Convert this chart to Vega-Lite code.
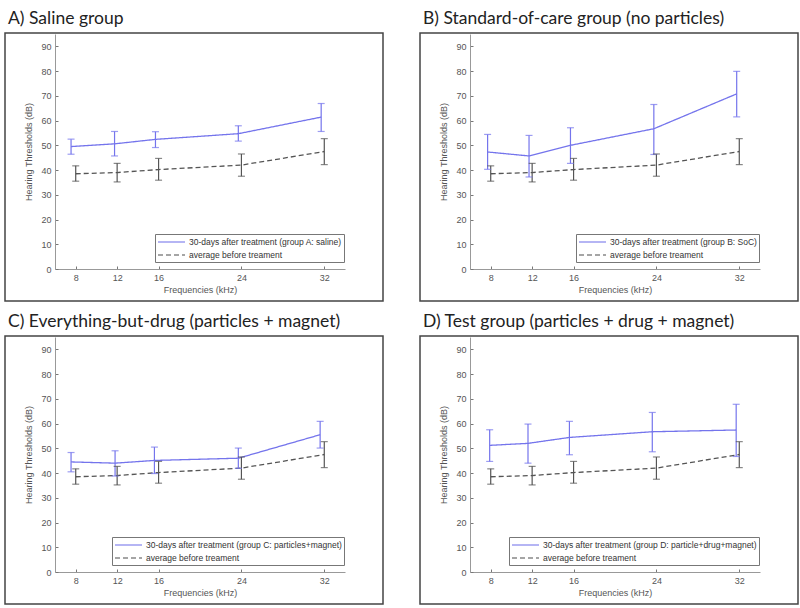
{
  "$schema": "https://vega.github.io/schema/vega-lite/v6.json",
  "background": "white",
  "padding": {"left": 4, "top": 8, "right": 0, "bottom": 0},
  "datasets": {
    "vals": [
      {"panel": "A", "series": "30-days after treatment (group A: saline)", "x": 7.55, "mean": 49.5, "lo": 46.4, "hi": 52.5},
      {"panel": "A", "series": "30-days after treatment (group A: saline)", "x": 11.75, "mean": 50.6, "lo": 45.7, "hi": 55.6},
      {"panel": "A", "series": "30-days after treatment (group A: saline)", "x": 15.7, "mean": 52.4, "lo": 49.1, "hi": 55.5},
      {"panel": "A", "series": "30-days after treatment (group A: saline)", "x": 23.7, "mean": 54.7, "lo": 51.7, "hi": 57.9},
      {"panel": "A", "series": "30-days after treatment (group A: saline)", "x": 31.7, "mean": 61.4, "lo": 55.6, "hi": 66.9},
      {"panel": "A", "series": "average before treament", "x": 8, "mean": 38.5, "lo": 35.5, "hi": 41.7},
      {"panel": "A", "series": "average before treament", "x": 12, "mean": 39.0, "lo": 35.2, "hi": 42.7},
      {"panel": "A", "series": "average before treament", "x": 16, "mean": 40.2, "lo": 35.9, "hi": 44.7},
      {"panel": "A", "series": "average before treament", "x": 24, "mean": 42.0, "lo": 37.5, "hi": 46.5},
      {"panel": "A", "series": "average before treament", "x": 32, "mean": 47.5, "lo": 42.2, "hi": 52.7},
      {"panel": "B", "series": "30-days after treatment (group B: SoC)", "x": 7.7, "mean": 47.3, "lo": 40.3, "hi": 54.4},
      {"panel": "B", "series": "30-days after treatment (group B: SoC)", "x": 11.7, "mean": 45.7, "lo": 37.2, "hi": 54.0},
      {"panel": "B", "series": "30-days after treatment (group B: SoC)", "x": 15.7, "mean": 50.0, "lo": 42.7, "hi": 57.1},
      {"panel": "B", "series": "30-days after treatment (group B: SoC)", "x": 23.75, "mean": 56.7, "lo": 46.3, "hi": 66.5},
      {"panel": "B", "series": "30-days after treatment (group B: SoC)", "x": 31.75, "mean": 70.8, "lo": 61.5, "hi": 79.9},
      {"panel": "B", "series": "average before treament", "x": 8, "mean": 38.5, "lo": 35.5, "hi": 41.7},
      {"panel": "B", "series": "average before treament", "x": 12, "mean": 39.0, "lo": 35.2, "hi": 42.7},
      {"panel": "B", "series": "average before treament", "x": 16, "mean": 40.2, "lo": 35.9, "hi": 44.7},
      {"panel": "B", "series": "average before treament", "x": 24, "mean": 42.0, "lo": 37.5, "hi": 46.5},
      {"panel": "B", "series": "average before treament", "x": 32, "mean": 47.5, "lo": 42.2, "hi": 52.7},
      {"panel": "C", "series": "30-days after treatment (group C: particles+magnet)", "x": 7.55, "mean": 44.5, "lo": 40.5, "hi": 48.3},
      {"panel": "C", "series": "30-days after treatment (group C: particles+magnet)", "x": 11.8, "mean": 44.0, "lo": 38.8, "hi": 49.0},
      {"panel": "C", "series": "30-days after treatment (group C: particles+magnet)", "x": 15.6, "mean": 45.1, "lo": 39.8, "hi": 50.5},
      {"panel": "C", "series": "30-days after treatment (group C: particles+magnet)", "x": 23.7, "mean": 46.0, "lo": 41.9, "hi": 50.1},
      {"panel": "C", "series": "30-days after treatment (group C: particles+magnet)", "x": 31.6, "mean": 55.5, "lo": 50.1, "hi": 60.9},
      {"panel": "C", "series": "average before treament", "x": 8, "mean": 38.5, "lo": 35.5, "hi": 41.7},
      {"panel": "C", "series": "average before treament", "x": 12, "mean": 39.0, "lo": 35.2, "hi": 42.7},
      {"panel": "C", "series": "average before treament", "x": 16, "mean": 40.2, "lo": 35.9, "hi": 44.7},
      {"panel": "C", "series": "average before treament", "x": 24, "mean": 42.0, "lo": 37.5, "hi": 46.5},
      {"panel": "C", "series": "average before treament", "x": 32, "mean": 47.5, "lo": 42.2, "hi": 52.7},
      {"panel": "D", "series": "30-days after treatment (group D: particle+drug+magnet)", "x": 7.9, "mean": 51.2, "lo": 44.7, "hi": 57.5},
      {"panel": "D", "series": "30-days after treatment (group D: particle+drug+magnet)", "x": 11.6, "mean": 52.0, "lo": 44.0, "hi": 59.8},
      {"panel": "D", "series": "30-days after treatment (group D: particle+drug+magnet)", "x": 15.6, "mean": 54.4, "lo": 47.4, "hi": 60.9},
      {"panel": "D", "series": "30-days after treatment (group D: particle+drug+magnet)", "x": 23.6, "mean": 56.7, "lo": 48.6, "hi": 64.5},
      {"panel": "D", "series": "30-days after treatment (group D: particle+drug+magnet)", "x": 31.7, "mean": 57.4, "lo": 46.7, "hi": 67.8},
      {"panel": "D", "series": "average before treament", "x": 8, "mean": 38.5, "lo": 35.5, "hi": 41.7},
      {"panel": "D", "series": "average before treament", "x": 12, "mean": 39.0, "lo": 35.2, "hi": 42.7},
      {"panel": "D", "series": "average before treament", "x": 16, "mean": 40.2, "lo": 35.9, "hi": 44.7},
      {"panel": "D", "series": "average before treament", "x": 24, "mean": 42.0, "lo": 37.5, "hi": 46.5},
      {"panel": "D", "series": "average before treament", "x": 32, "mean": 47.5, "lo": 42.2, "hi": 52.7}
    ]
  },
  "data": {"name": "vals"},
  "columns": 2,
  "spacing": {"row": 9, "column": 35},
  "resolve": {
    "scale": {"color": "independent", "strokeDash": "independent", "x": "independent", "y": "independent"},
    "legend": {"color": "independent", "strokeDash": "independent"}
  },
  "concat": [
    {
      "width": 378, "height": 268,
      "title": "A) Saline group",
      "transform": [{"filter": "datum.panel === 'A'"}],
      "encoding": {
        "x": {"field": "x", "type": "quantitative", "title": "Frequencies (kHz)",
          "scale": {"domain": [6, 34], "range": [50, 340], "nice": false, "zero": false},
          "axis": {"values": [8, 12, 16, 24, 32], "offset": -32}}
      },
      "layer": [
        {"mark": {"type": "line", "strokeWidth": 1.3},
          "encoding": {
            "y": {"field": "mean", "type": "quantitative", "title": "Hearing Thresholds (dB)",
              "scale": {"domain": [0, 95], "range": [236, 1], "nice": false, "zero": false},
              "axis": {"values": [0, 10, 20, 30, 40, 50, 60, 70, 80, 90], "offset": -50}},
            "color": {"field": "series", "type": "nominal", "title": null,
              "scale": {"domain": ["30-days after treatment (group A: saline)", "average before treament"], "range": ["#7474ec", "#555555"]}},
            "strokeDash": {"field": "series", "type": "nominal", "title": null,
              "scale": {"domain": ["30-days after treatment (group A: saline)", "average before treament"], "range": [[1, 0], [5, 3]]}}
          }},
        {"mark": {"type": "rule", "strokeWidth": 1.2},
          "encoding": {"y": {"field": "lo", "type": "quantitative", "title": "Hearing Thresholds (dB)", "axis": {"values": [0, 10, 20, 30, 40, 50, 60, 70, 80, 90], "offset": -50}}, "y2": {"field": "hi"},
            "color": {"field": "series", "type": "nominal", "title": null}}},
        {"mark": {"type": "tick", "orient": "horizontal", "size": 7, "thickness": 1.2},
          "encoding": {"y": {"field": "lo", "type": "quantitative", "title": "Hearing Thresholds (dB)", "axis": {"values": [0, 10, 20, 30, 40, 50, 60, 70, 80, 90], "offset": -50}},
            "color": {"field": "series", "type": "nominal", "title": null}}},
        {"mark": {"type": "tick", "orient": "horizontal", "size": 7, "thickness": 1.2},
          "encoding": {"y": {"field": "hi", "type": "quantitative", "title": "Hearing Thresholds (dB)", "axis": {"values": [0, 10, 20, 30, 40, 50, 60, 70, 80, 90], "offset": -50}},
            "color": {"field": "series", "type": "nominal", "title": null}}}
      ]
    },
    {
      "width": 378, "height": 268,
      "title": "B) Standard-of-care group (no particles)",
      "transform": [{"filter": "datum.panel === 'B'"}],
      "encoding": {
        "x": {"field": "x", "type": "quantitative", "title": "Frequencies (kHz)",
          "scale": {"domain": [6, 34], "range": [50, 340], "nice": false, "zero": false},
          "axis": {"values": [8, 12, 16, 24, 32], "offset": -32}}
      },
      "layer": [
        {"mark": {"type": "line", "strokeWidth": 1.3},
          "encoding": {
            "y": {"field": "mean", "type": "quantitative", "title": "Hearing Thresholds (dB)",
              "scale": {"domain": [0, 95], "range": [236, 1], "nice": false, "zero": false},
              "axis": {"values": [0, 10, 20, 30, 40, 50, 60, 70, 80, 90], "offset": -50}},
            "color": {"field": "series", "type": "nominal", "title": null,
              "scale": {"domain": ["30-days after treatment (group B: SoC)", "average before treament"], "range": ["#7474ec", "#555555"]}},
            "strokeDash": {"field": "series", "type": "nominal", "title": null,
              "scale": {"domain": ["30-days after treatment (group B: SoC)", "average before treament"], "range": [[1, 0], [5, 3]]}}
          }},
        {"mark": {"type": "rule", "strokeWidth": 1.2},
          "encoding": {"y": {"field": "lo", "type": "quantitative", "title": "Hearing Thresholds (dB)", "axis": {"values": [0, 10, 20, 30, 40, 50, 60, 70, 80, 90], "offset": -50}}, "y2": {"field": "hi"},
            "color": {"field": "series", "type": "nominal", "title": null}}},
        {"mark": {"type": "tick", "orient": "horizontal", "size": 7, "thickness": 1.2},
          "encoding": {"y": {"field": "lo", "type": "quantitative", "title": "Hearing Thresholds (dB)", "axis": {"values": [0, 10, 20, 30, 40, 50, 60, 70, 80, 90], "offset": -50}},
            "color": {"field": "series", "type": "nominal", "title": null}}},
        {"mark": {"type": "tick", "orient": "horizontal", "size": 7, "thickness": 1.2},
          "encoding": {"y": {"field": "hi", "type": "quantitative", "title": "Hearing Thresholds (dB)", "axis": {"values": [0, 10, 20, 30, 40, 50, 60, 70, 80, 90], "offset": -50}},
            "color": {"field": "series", "type": "nominal", "title": null}}}
      ]
    },
    {
      "width": 378, "height": 268,
      "title": "C) Everything-but-drug (particles + magnet)",
      "transform": [{"filter": "datum.panel === 'C'"}],
      "encoding": {
        "x": {"field": "x", "type": "quantitative", "title": "Frequencies (kHz)",
          "scale": {"domain": [6, 34], "range": [50, 340], "nice": false, "zero": false},
          "axis": {"values": [8, 12, 16, 24, 32], "offset": -32}}
      },
      "layer": [
        {"mark": {"type": "line", "strokeWidth": 1.3},
          "encoding": {
            "y": {"field": "mean", "type": "quantitative", "title": "Hearing Thresholds (dB)",
              "scale": {"domain": [0, 95], "range": [236, 1], "nice": false, "zero": false},
              "axis": {"values": [0, 10, 20, 30, 40, 50, 60, 70, 80, 90], "offset": -50}},
            "color": {"field": "series", "type": "nominal", "title": null,
              "scale": {"domain": ["30-days after treatment (group C: particles+magnet)", "average before treament"], "range": ["#7474ec", "#555555"]}},
            "strokeDash": {"field": "series", "type": "nominal", "title": null,
              "scale": {"domain": ["30-days after treatment (group C: particles+magnet)", "average before treament"], "range": [[1, 0], [5, 3]]}}
          }},
        {"mark": {"type": "rule", "strokeWidth": 1.2},
          "encoding": {"y": {"field": "lo", "type": "quantitative", "title": "Hearing Thresholds (dB)", "axis": {"values": [0, 10, 20, 30, 40, 50, 60, 70, 80, 90], "offset": -50}}, "y2": {"field": "hi"},
            "color": {"field": "series", "type": "nominal", "title": null}}},
        {"mark": {"type": "tick", "orient": "horizontal", "size": 7, "thickness": 1.2},
          "encoding": {"y": {"field": "lo", "type": "quantitative", "title": "Hearing Thresholds (dB)", "axis": {"values": [0, 10, 20, 30, 40, 50, 60, 70, 80, 90], "offset": -50}},
            "color": {"field": "series", "type": "nominal", "title": null}}},
        {"mark": {"type": "tick", "orient": "horizontal", "size": 7, "thickness": 1.2},
          "encoding": {"y": {"field": "hi", "type": "quantitative", "title": "Hearing Thresholds (dB)", "axis": {"values": [0, 10, 20, 30, 40, 50, 60, 70, 80, 90], "offset": -50}},
            "color": {"field": "series", "type": "nominal", "title": null}}}
      ]
    },
    {
      "width": 378, "height": 268,
      "title": "D) Test group (particles + drug + magnet)",
      "transform": [{"filter": "datum.panel === 'D'"}],
      "encoding": {
        "x": {"field": "x", "type": "quantitative", "title": "Frequencies (kHz)",
          "scale": {"domain": [6, 34], "range": [50, 340], "nice": false, "zero": false},
          "axis": {"values": [8, 12, 16, 24, 32], "offset": -32}}
      },
      "layer": [
        {"mark": {"type": "line", "strokeWidth": 1.3},
          "encoding": {
            "y": {"field": "mean", "type": "quantitative", "title": "Hearing Thresholds (dB)",
              "scale": {"domain": [0, 95], "range": [236, 1], "nice": false, "zero": false},
              "axis": {"values": [0, 10, 20, 30, 40, 50, 60, 70, 80, 90], "offset": -50}},
            "color": {"field": "series", "type": "nominal", "title": null,
              "scale": {"domain": ["30-days after treatment (group D: particle+drug+magnet)", "average before treament"], "range": ["#7474ec", "#555555"]}},
            "strokeDash": {"field": "series", "type": "nominal", "title": null,
              "scale": {"domain": ["30-days after treatment (group D: particle+drug+magnet)", "average before treament"], "range": [[1, 0], [5, 3]]}}
          }},
        {"mark": {"type": "rule", "strokeWidth": 1.2},
          "encoding": {"y": {"field": "lo", "type": "quantitative", "title": "Hearing Thresholds (dB)", "axis": {"values": [0, 10, 20, 30, 40, 50, 60, 70, 80, 90], "offset": -50}}, "y2": {"field": "hi"},
            "color": {"field": "series", "type": "nominal", "title": null}}},
        {"mark": {"type": "tick", "orient": "horizontal", "size": 7, "thickness": 1.2},
          "encoding": {"y": {"field": "lo", "type": "quantitative", "title": "Hearing Thresholds (dB)", "axis": {"values": [0, 10, 20, 30, 40, 50, 60, 70, 80, 90], "offset": -50}},
            "color": {"field": "series", "type": "nominal", "title": null}}},
        {"mark": {"type": "tick", "orient": "horizontal", "size": 7, "thickness": 1.2},
          "encoding": {"y": {"field": "hi", "type": "quantitative", "title": "Hearing Thresholds (dB)", "axis": {"values": [0, 10, 20, 30, 40, 50, 60, 70, 80, 90], "offset": -50}},
            "color": {"field": "series", "type": "nominal", "title": null}}}
      ]
    }
  ],
  "config": {
    "view": {"stroke": "#444444", "strokeWidth": 1.5},
    "title": {"anchor": "start", "font": "Lato", "fontSize": 17.5, "fontWeight": "normal", "color": "#222222", "offset": 6, "dx": 3},
    "axis": {
      "grid": false, "domainColor": "#999999", "tickColor": "#777777", "tickSize": -3,
      "labelColor": "#555555", "titleColor": "#555555", "labelFont": "Liberation Sans", "titleFont": "Liberation Sans",
      "labelFontSize": 9, "titleFontSize": 9, "titleFontWeight": "normal", "labelPadding": 7, "labelOverlap": false
    },
    "axisX": {"titlePadding": 3},
    "axisY": {"titlePadding": 7},
    "legend": {
      "orient": "bottom-right", "offset": 39, "symbolType": "M-1,0H4.4", "symbolSize": 100, "symbolStrokeWidth": 1.3,
      "labelFont": "Liberation Sans", "labelFontSize": 8.5, "labelColor": "#333333", "labelOffset": 20, "labelLimit": 400,
      "strokeColor": "#777777", "fillColor": "white", "padding": 2, "rowPadding": 2
    }
  }
}
